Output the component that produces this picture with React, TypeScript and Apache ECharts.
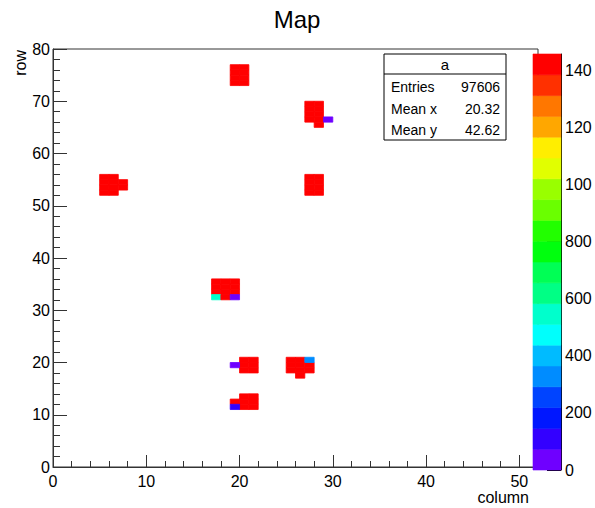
import React, { useEffect, useRef } from 'react';
import * as echarts from 'echarts';

const FONT = '"Liberation Sans", Arial, Helvetica, sans-serif';

// axis ranges / ticks
const xRange = [0, 52];
const yRange = [0, 80];
const xMajorTicks = [0, 10, 20, 30, 40, 50];
const yMajorTicks = [0, 10, 20, 30, 40, 50, 60, 70, 80];

// colour scale (ROOT palette, 20 contours)
const zMax = 1456;
const paletteColors = [
  '#6f00ff', '#3300ff', '#0017ff', '#0044ff', '#008cff',
  '#00bbff', '#00fffc', '#00ffcc', '#00ff85', '#00ff55',
  '#00ff0e', '#22ff00', '#6aff00', '#99ff00', '#e1ff00',
  '#ffee00', '#ffa700', '#ff7700', '#ff3000', '#ff0000',
];
const paletteTicks = [0, 200, 400, 600, 800, 1000, 1200, 1400];
const paletteTickLabels = ['0', '200', '400', '600', '800', '100', '120', '140'];

// histogram bins: [column, row, content]
const cells: [number, number, number][] = [
  // block at column 19-20, row 73-76
  [19, 73, 1448], [20, 73, 1452], [19, 74, 1440], [20, 74, 1456],
  [19, 75, 1445], [20, 75, 1437], [19, 76, 1450], [20, 76, 1442],
  // block at column 27-28, row 65-69
  [27, 66, 1444], [28, 66, 1449], [27, 67, 1438], [28, 67, 1453],
  [27, 68, 1441], [28, 68, 1446], [27, 69, 1447], [28, 69, 1435],
  [28, 65, 1432], [29, 66, 30],
  // block at column 27-28, row 52-55
  [27, 52, 1443], [28, 52, 1439], [27, 53, 1451], [28, 53, 1447],
  [27, 54, 1444], [28, 54, 1436], [27, 55, 1449], [28, 55, 1441],
  // block at column 5-7, row 52-55
  [5, 52, 1440], [6, 52, 1446], [5, 53, 1452], [6, 53, 1443],
  [5, 54, 1438], [6, 54, 1450], [5, 55, 1445], [6, 55, 1437],
  [7, 53, 1430], [7, 54, 1434],
  // block at column 17-19, row 32-35
  [17, 33, 1442], [18, 33, 1448], [19, 33, 1439], [17, 34, 1451],
  [18, 34, 1444], [19, 34, 1436], [17, 35, 1447], [18, 35, 1440],
  [19, 35, 1449], [17, 32, 550], [18, 32, 1425], [19, 32, 40],
  // block at column 19-21, row 18-20
  [20, 18, 1446], [21, 18, 1441], [20, 19, 1450], [21, 19, 1438],
  [20, 20, 1443], [21, 20, 1447], [19, 19, 25],
  // block at column 25-27, row 17-20
  [25, 18, 1444], [26, 18, 1449], [27, 18, 1437], [25, 19, 1452],
  [26, 19, 1440], [27, 19, 1446], [25, 20, 1439], [26, 20, 1448],
  [27, 20, 330], [26, 17, 1428],
  // block at column 19-21, row 11-13
  [20, 11, 1445], [21, 11, 1441], [20, 12, 1450], [21, 12, 1436],
  [20, 13, 1447], [21, 13, 1443], [19, 12, 1431], [19, 11, 110],
];

// statistics box
const statTitle = 'a';
const statNames = ['Entries', 'Mean x', 'Mean y'];
const statValues = ['97606', '20.32', '42.62'];

const chartTitle = 'Map';
const xTitle = 'column';
const yTitle = 'row';

export default function App() {
  const ref = useRef<HTMLDivElement>(null);

  useEffect(() => {
    if (!ref.current) return;
    const chart = echarts.init(ref.current, undefined, { renderer: 'svg' });

    const step = zMax / paletteColors.length;
    const pieces = paletteColors.map((color, k) =>
      k === paletteColors.length - 1
        ? { gte: k * step, lte: zMax + 1e-6, color }
        : { gte: k * step, lt: (k + 1) * step, color }
    );
    const paletteData = paletteColors.map((_, k) => [k * step, (k + 1) * step, (k + 0.5) * step]);

    const axisColor = '#333';

    const option: any = {
      animation: false,
      backgroundColor: '#fff',
      grid: [
        { left: 53, top: 49, width: 485, height: 418, show: true, borderColor: axisColor, borderWidth: 1, backgroundColor: 'transparent' },
        { left: 533, top: 54, width: 28, height: 416, show: false },
      ],
      visualMap: {
        type: 'piecewise',
        show: false,
        dimension: 2,
        seriesIndex: [0, 1],
        pieces,
      },
      xAxis: [
        {
          type: 'value', gridIndex: 0, min: xRange[0], max: xRange[1], interval: 10,
          axisLine: { show: true, onZero: false, lineStyle: { color: axisColor } },
          axisTick: { show: true, inside: true, length: 12, lineStyle: { color: axisColor } },
          minorTick: { show: false },
          splitLine: { show: false },
          axisLabel: {
            margin: 6, color: '#000', fontSize: 16, fontFamily: FONT,
            formatter: (v: number) => (xMajorTicks.includes(v) ? String(v) : ''),
          },
        },
        {
          type: 'value', gridIndex: 0, min: xRange[0], max: xRange[1], interval: 2, position: 'bottom',
          axisLine: { show: false, onZero: false },
          axisTick: { show: true, inside: true, length: 6, lineStyle: { color: axisColor } },
          axisLabel: { show: false },
          splitLine: { show: false },
        },
        {
          type: 'value', gridIndex: 1, min: 0, max: 1, show: false,
        },
      ],
      yAxis: [
        {
          type: 'value', gridIndex: 0, min: yRange[0], max: yRange[1], interval: 10,
          axisLine: { show: true, onZero: false, lineStyle: { color: axisColor } },
          axisTick: { show: true, inside: true, length: 14, lineStyle: { color: axisColor } },
          minorTick: { show: true, splitNumber: 5, length: 7, lineStyle: { color: axisColor } },
          splitLine: { show: false },
          axisLabel: {
            margin: 3, color: '#000', fontSize: 16, fontFamily: FONT,
            formatter: (v: number) => (yMajorTicks.includes(v) ? String(v) : ''),
          },
        },
        {
          type: 'value', gridIndex: 1, min: 0, max: zMax, interval: 200, position: 'right',
          axisLine: { show: true, onZero: false, lineStyle: { color: '#000' } },
          axisTick: { show: true, inside: true, length: 14, lineStyle: { color: '#000' }, customValues: paletteTicks },
          splitLine: { show: false },
          axisLabel: {
            margin: 4, color: '#000', fontSize: 16, fontFamily: FONT,
            customValues: paletteTicks,
            formatter: (v: number) => {
              const i = paletteTicks.indexOf(v);
              return i >= 0 ? paletteTickLabels[i] : '';
            },
          },
        },
      ],
      series: [
        {
          type: 'custom',
          xAxisIndex: 0,
          yAxisIndex: 0,
          data: cells,
          encode: { x: 0, y: 1 },
          renderItem: (_params: any, api: any) => {
            const c = api.value(0);
            const r = api.value(1);
            const p0 = api.coord([c, r + 1]);
            const p1 = api.coord([c + 1, r]);
            const col = api.visual('color');
            return {
              type: 'rect',
              shape: { x: p0[0], y: p0[1], width: p1[0] - p0[0], height: p1[1] - p0[1] },
              style: { fill: col, stroke: col, lineWidth: 0.8 },
            };
          },
        },
        {
          type: 'custom',
          xAxisIndex: 2,
          yAxisIndex: 1,
          z: 10,
          data: paletteData,
          encode: { y: [0, 1] },
          renderItem: (_params: any, api: any) => {
            const lo = api.value(0);
            const hi = api.value(1);
            const p0 = api.coord([0, hi]);
            const p1 = api.coord([1, lo]);
            const col = api.visual('color');
            return {
              type: 'rect',
              shape: { x: p0[0], y: p0[1], width: p1[0] - p0[0], height: p1[1] - p0[1] },
              style: { fill: col, stroke: col, lineWidth: 0.6 },
            };
          },
        },
      ],
      graphic: [
        {
          type: 'text', x: 297, y: 19, z: 20,
          style: { text: chartTitle, fontSize: 24, fontFamily: FONT, fill: '#000', align: 'center', verticalAlign: 'middle' },
        },
        {
          type: 'text', x: 529, y: 497, z: 20,
          style: { text: xTitle, fontSize: 16, fontFamily: FONT, fill: '#000', align: 'right', verticalAlign: 'middle' },
        },
        {
          type: 'text', x: 20, y: 50, rotation: Math.PI / 2, z: 20,
          style: { text: yTitle, fontSize: 16, fontFamily: FONT, fill: '#000', align: 'right', verticalAlign: 'middle' },
        },
        {
          type: 'group', z: 20,
          children: [
            { type: 'rect', shape: { x: 384, y: 54, width: 122, height: 86 }, style: { fill: '#fff', stroke: '#000', lineWidth: 1 } },
            { type: 'line', shape: { x1: 384, y1: 74, x2: 506, y2: 74 }, style: { stroke: '#000', lineWidth: 1 } },
            { type: 'text', x: 445, y: 64, style: { text: statTitle, fontSize: 15, fontFamily: FONT, fill: '#000', align: 'center', verticalAlign: 'middle' } },
            ...statNames.map((n, i) => ({
              type: 'text', x: 391, y: 87 + i * 21.5,
              style: { text: n, fontSize: 14, fontFamily: FONT, fill: '#000', align: 'left', verticalAlign: 'middle' },
            })),
            ...statValues.map((v, i) => ({
              type: 'text', x: 500, y: 87 + i * 21.5,
              style: { text: v, fontSize: 14, fontFamily: FONT, fill: '#000', align: 'right', verticalAlign: 'middle' },
            })),
          ],
        },
      ],
    };

    chart.setOption(option);
    return () => chart.dispose();
  }, []);

  return (
    <div
      ref={ref}
      style={{ position: 'absolute', left: 0, top: 0, width: 595, height: 508 }}
    />
  );
}
